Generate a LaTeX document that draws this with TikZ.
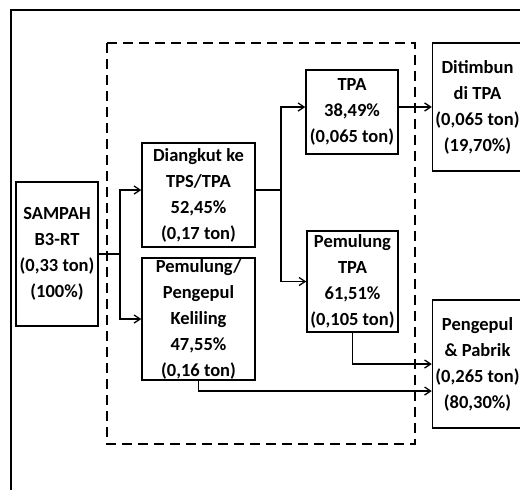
\documentclass[tikz,border=0pt]{standalone}
\usepackage{fontspec}
\setmainfont{Carlito}
\usetikzlibrary{arrows.meta,positioning,calc}
\tikzset{
  box/.style={draw,rectangle,line width=1.5pt,align=center,inner sep=0pt,
    font=\fontsize{18.5}{26}\selectfont\bfseries},
  arr/.style={-{Straight Barb[length=6pt,width=8pt,line width=1.3pt]},line width=1.6pt},
  ln/.style={line width=1.6pt}
}
\begin{document}
\begin{tikzpicture}[x=1pt,y=-1pt]
  \useasboundingbox (0,0) rectangle (520,490);
  % frame and dashed group
  \draw[line width=2.5pt] (11,10) rectangle (540,510);
  \draw[line width=1.5pt,dash pattern=on 10pt off 6pt] (107,43) rectangle (415,444);

  \node[box,minimum width=82pt,minimum height=144pt] (sampah) at (57,254) {SAMPAH\\B3-RT\\(0,33 ton)\\(100\%)};
  \node[box,minimum width=113pt,minimum height=104pt] (diangkut) at (198.5,195) {Diangkut ke\\TPS/TPA\\52,45\%\\(0,17 ton)};
  \node[box,minimum width=113pt,minimum height=122pt] (keliling) at (198.5,319) {Pemulung/\\Pengepul\\Keliling\\47,55\%\\(0,16 ton)};
  \node[box,minimum width=92pt,minimum height=84pt] (tpa) at (352,112) {TPA\\38,49\%\\(0,065 ton)};
  \node[box,minimum width=91pt,minimum height=101pt] (pemtpa) at (352.5,281.5) {Pemulung\\TPA\\61,51\%\\(0,105 ton)};
  \node[box,minimum width=90pt,minimum height=128pt] (ditimbun) at (477.5,107) {Ditimbun\\di TPA\\(0,065 ton)\\(19,70\%)};
  \node[box,minimum width=90pt,minimum height=128pt] (pabrik) at (477.5,364) {Pengepul\\\& Pabrik\\(0,265 ton)\\(80,30\%)};

  \coordinate (split1) at (120,254);
  \coordinate (split2) at (281,190);

  \draw[ln] (sampah.east) -- (split1);
  \draw[arr] (split1) |- ([yshift=5pt]diangkut.west);
  \draw[arr] (split1) |- (keliling.west);
  \draw[ln] ([yshift=5pt]diangkut.east) -- (split2);
  \draw[arr] (split2) |- ([yshift=5pt]tpa.west);
  \draw[arr] (split2) |- (pemtpa.west);
  \draw[arr] ([yshift=5pt]tpa.east) -- (ditimbun.west);
  \draw[arr] (pemtpa.south) |- (pabrik.west);
  \draw[arr] (keliling.south) |- ([yshift=-27pt]pabrik.west);
\end{tikzpicture}
\end{document}
